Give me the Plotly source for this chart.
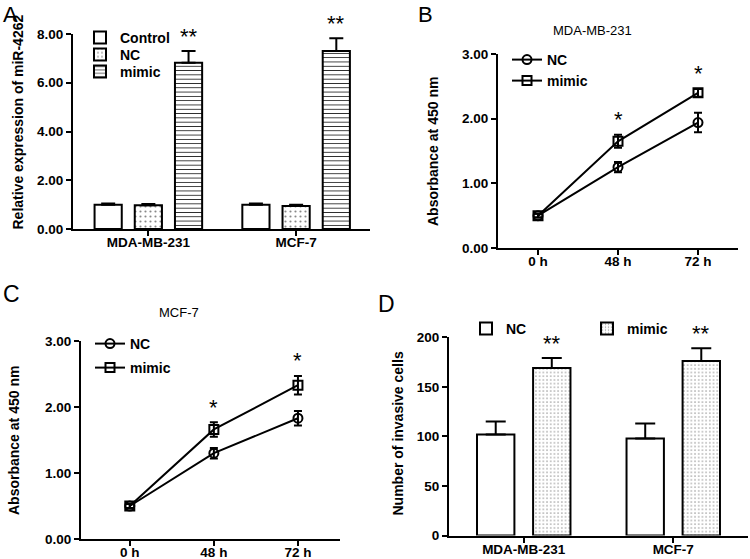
import plotly.graph_objects as go

W, H = 750, 559
FONT = "Liberation Sans, Arial, sans-serif"

# ---------------- data ----------------
# Panel A
a_groups = ["MDA-MB-231", "MCF-7"]
a_control = [1.00, 1.00]
a_control_err = [0.05, 0.05]
a_nc = [0.97, 0.94]
a_nc_err = [0.06, 0.06]
a_mimic = [6.82, 7.30]
a_mimic_err = [0.48, 0.53]
a_sig = ["**", "**"]

# Panels B / C
time_labels = ["0 h", "48 h", "72 h"]
b_nc = [0.50, 1.25, 1.94]
b_nc_err = [0.03, 0.08, 0.15]
b_mimic = [0.50, 1.65, 2.40]
b_mimic_err = [0.03, 0.10, 0.06]
b_sig = ["", "*", "*"]

c_nc = [0.50, 1.30, 1.83]
c_nc_err = [0.03, 0.08, 0.11]
c_mimic = [0.50, 1.66, 2.33]
c_mimic_err = [0.03, 0.11, 0.14]
c_sig = ["", "*", "*"]

# Panel D
d_groups = ["MDA-MB-231", "MCF-7"]
d_nc = [102, 98]
d_nc_err = [13, 15]
d_mimic = [169, 176]
d_mimic_err = [10, 13]
d_sig = ["**", "**"]


def px_x(p):
    return p / W


def px_y(p):
    return 1 - p / H


BOLD = dict(family=FONT, size=13.5, color="black", weight="bold")
LEG = dict(family=FONT, size=14, color="black", weight="bold")

fig = go.Figure()
legends = {}


def make_legend(key, text_x, row_y):
    legends[key] = dict(x=px_x(text_x - 40), y=px_y(row_y), xanchor="left", yanchor="middle",
                        font=LEG, bgcolor="rgba(0,0,0,0)", borderwidth=0)


def bar(name, xs, ys, err, pattern, offset, width, xa, ya, legend, capw, psize=4, psol=0.3,
        pcol="#555"):
    fig.add_trace(go.Bar(
        name=name, x=xs, y=ys, xaxis=xa, yaxis=ya, legend=legend,
        offset=offset, width=width,
        marker=dict(color="white", line=dict(color="black", width=2),
                    pattern=dict(shape=pattern, fgcolor=pcol, bgcolor="white",
                                 size=psize, solidity=psol)),
        error_y=dict(type="data", array=err, arrayminus=[0] * len(err), symmetric=False,
                     color="black", thickness=2, width=capw),
    ))


# Panel A bars
bar("Control", a_groups, a_control, a_control_err, "", -0.364, 0.184, "x", "y", "legend", 7)
bar("NC", a_groups, a_nc, a_nc_err, ".", -0.092, 0.184, "x", "y", "legend5", 7, 5, 0.15, "#888")
bar("mimic", a_groups, a_mimic, a_mimic_err, "-", 0.180, 0.184, "x", "y", "legend6", 7, 4.3, 0.2, "#222")
make_legend("legend", 120, 38)
make_legend("legend5", 120, 55)
make_legend("legend6", 120, 72)

# Panel D bars
bar("NC", d_groups, d_nc, d_nc_err, "", -0.3125, 0.25, "x4", "y4", "legend4", 10)
bar("mimic", d_groups, d_mimic, d_mimic_err, ".", 0.0625, 0.25, "x4", "y4", "legend9", 10, 3.7, 0.15, "#999")
make_legend("legend4", 506, 329)
make_legend("legend9", 627, 329)


def line(name, ys, err, symbol, xa, ya, legend):
    fig.add_trace(go.Scatter(
        name=name, x=time_labels, y=ys, xaxis=xa, yaxis=ya, legend=legend,
        mode="lines+markers",
        line=dict(color="black", width=2),
        marker=dict(symbol=symbol, size=9, color="black", line=dict(width=2, color="black")),
        error_y=dict(type="data", array=err, color="black", thickness=2, width=4),
    ))


line("NC", b_nc, b_nc_err, "circle-open", "x2", "y2", "legend2")
line("mimic", b_mimic, b_mimic_err, "square-open", "x2", "y2", "legend7")
make_legend("legend2", 547, 60)
make_legend("legend7", 547, 81)
line("NC", c_nc, c_nc_err, "circle-open", "x3", "y3", "legend3")
line("mimic", c_mimic, c_mimic_err, "square-open", "x3", "y3", "legend8")
make_legend("legend3", 130, 344)
make_legend("legend8", 130, 368)

axis_common = dict(showline=True, linewidth=2, linecolor="black", ticks="outside",
                   ticklen=5, tickwidth=2, tickcolor="black", showgrid=False,
                   zeroline=False, tickfont=BOLD, fixedrange=True, automargin=False)
xaxis_common = dict(axis_common, ticklabelstandoff=-5)

layout = dict(
    template="none",
    width=W, height=H, margin=dict(l=0, r=0, t=0, b=0, pad=0),
    paper_bgcolor="white", plot_bgcolor="white",
    font=dict(family=FONT, color="black"),
    showlegend=True,
    xaxis=dict(domain=[px_x(73), px_x(370)], anchor="y", type="category",
               range=[-0.51, 1.5], **xaxis_common),
    yaxis=dict(domain=[px_y(229), px_y(34)], anchor="x", range=[0, 8],
               tickvals=[0, 2, 4, 6, 8], tickformat=".2f", **axis_common),
    xaxis2=dict(domain=[px_x(498), px_x(738)], anchor="y2", type="category",
                range=[-0.5, 2.5], **xaxis_common),
    yaxis2=dict(domain=[px_y(248), px_y(54)], anchor="x2", range=[0, 3],
                tickvals=[0, 1, 2, 3], tickformat=".2f", **axis_common),
    xaxis3=dict(domain=[px_x(81), px_x(340)], anchor="y3", type="category",
                range=[-0.58, 2.5], **xaxis_common),
    yaxis3=dict(domain=[px_y(539), px_y(341)], anchor="x3", range=[0, 3],
                tickvals=[0, 1, 2, 3], tickformat=".2f", **axis_common),
    xaxis4=dict(domain=[px_x(449), px_x(748)], anchor="y4", type="category",
                range=[-0.5, 1.5], **xaxis_common),
    yaxis4=dict(domain=[px_y(535.5), px_y(337.3)], anchor="x4", range=[0, 200],
                tickvals=[0, 50, 100, 150, 200], **axis_common),
)
layout.update(legends)
fig.update_layout(**layout)

ann = []


def star_ann(xs, tops, sig, xa, ya, xshift=0):
    for x, t, s in zip(xs, tops, sig):
        if s:
            ann.append(dict(x=x, y=t, xref=xa, yref=ya, text=s, showarrow=False,
                            yanchor="middle", yshift=15, xshift=xshift,
                            font=dict(family=FONT, size=22, color="black")))


star_ann(a_groups, [m + e for m, e in zip(a_mimic, a_mimic_err)], a_sig, "x", "y", 0.272 * 148)
star_ann(time_labels, [m + e for m, e in zip(b_mimic, b_mimic_err)], b_sig, "x2", "y2")
star_ann(time_labels, [m + e for m, e in zip(c_mimic, c_mimic_err)], c_sig, "x3", "y3")
star_ann(d_groups, [m + e for m, e in zip(d_mimic, d_mimic_err)], d_sig, "x4", "y4", 0.1875 * 150)


def text(x, y, s, size, bold=False, angle=0, xanchor="center", yanchor="middle"):
    ann.append(dict(x=px_x(x), y=px_y(y), xref="paper", yref="paper", text=s,
                    showarrow=False, textangle=angle, xanchor=xanchor, yanchor=yanchor,
                    font=dict(family=FONT, size=size, color="black",
                              weight="bold" if bold else "normal")))


# axis titles
text(17.5, 122, "Relative expression of miR-4262", 14, True, -90)
text(433, 152, "Absorbance at 450 nm", 14, True, -90)
text(14, 441, "Absorbance at 450 nm", 14, True, -90)
text(397.5, 434, "Number of invasive cells", 14, True, -90)
# panel subtitles
text(592, 30, "MDA-MB-231", 13)
text(179, 312, "MCF-7", 13)
# panel letters
text(10, 0, "A", 22, yanchor="top")
text(425, 0, "B", 22, yanchor="top")
text(11, 294, "C", 23)
text(386, 304, "D", 23)

fig.update_layout(annotations=ann)
fig.write_html("out.html", config={"displayModeBar": False},
               post_script="document.body.style.margin='0';document.body.style.overflow='hidden';")
